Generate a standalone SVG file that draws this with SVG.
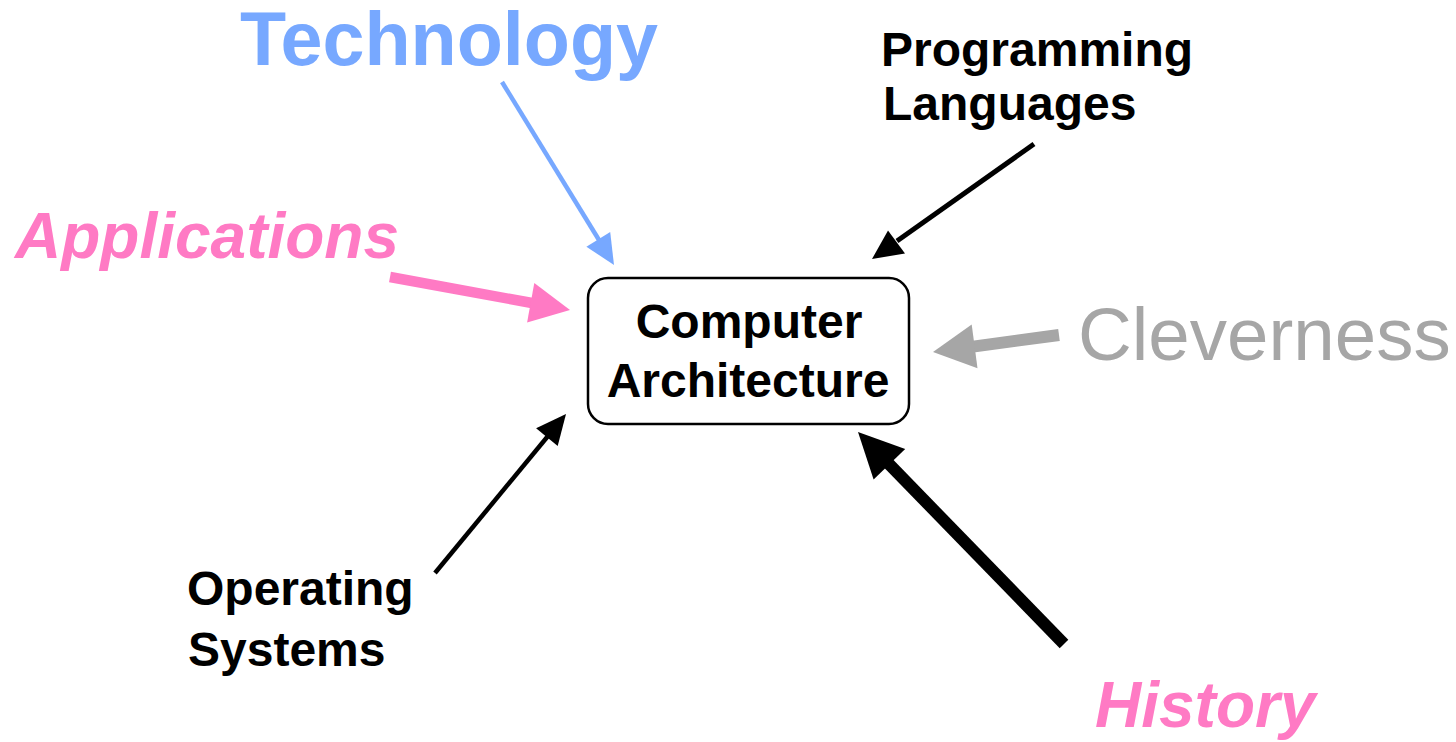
<svg xmlns="http://www.w3.org/2000/svg" width="1456" height="742" viewBox="0 0 1456 742">
  <style>
    text { font-family: "Liberation Sans", Arial, sans-serif; }
    .label { font-size: 48px; font-weight: bold; fill: #000; }
    .tech { font-size: 75.5px; font-weight: bold; fill: #77A8FF; }
    .pink { font-size: 64px; font-weight: bold; font-style: italic; fill: #FF7AC4; }
    .clever { font-size: 74.5px; fill: #A6A6A6; }
    .box { fill: #fff; stroke: #000; stroke-width: 2.5; }
  </style>

  <rect width="1456" height="742" fill="#fff"/>

  <!-- central node -->
  <g id="computer-architecture">
    <rect class="box" x="588" y="278" width="321" height="146" rx="20" ry="20"/>
    <text class="label" x="749" y="338" text-anchor="middle">Computer</text>
    <text class="label" x="748" y="397" text-anchor="middle">Architecture</text>
  </g>

  <!-- surrounding influences -->
  <g id="technology">
    <text class="tech" x="240" y="65">Technology</text>
  </g>
  <g id="programming-languages">
    <text class="label" x="881" y="66">Programming</text>
    <text class="label" x="883" y="120">Languages</text>
  </g>
  <g id="applications">
    <text class="pink" x="15" y="258">Applications</text>
  </g>
  <g id="cleverness">
    <text class="clever" x="1078" y="360">Cleverness</text>
  </g>
  <g id="operating-systems">
    <text class="label" x="187" y="605">Operating</text>
    <text class="label" x="188" y="666">Systems</text>
  </g>
  <g id="history">
    <text class="pink" x="1095" y="727">History</text>
  </g>

  <!-- arrows: shaft + head -->
  <g id="connectors">
    <line x1="502" y1="82" x2="599" y2="240" stroke="#77A8FF" stroke-width="4.5"/>
    <polygon points="614,265 586.4,246.7 610.2,232.1" fill="#77A8FF"/>

    <line x1="390" y1="277" x2="532" y2="303" stroke="#FF7AC4" stroke-width="10.5"/>
    <polygon points="570,310 527.1,322.5 534.3,283.1" fill="#FF7AC4"/>

    <line x1="1034" y1="144" x2="897" y2="241" stroke="#000" stroke-width="5"/>
    <polygon points="872,259 888,230.5 905,253.5" fill="#000"/>

    <line x1="435" y1="573" x2="548" y2="436" stroke="#000" stroke-width="4.5"/>
    <polygon points="566,414 557.7,446.1 536.1,428.3" fill="#000"/>

    <line x1="1064" y1="644" x2="888" y2="463" stroke="#000" stroke-width="12"/>
    <polygon points="858,432 905.2,449 873.6,479.6" fill="#000"/>

    <line x1="1059" y1="335" x2="973" y2="346.6" stroke="#A6A6A6" stroke-width="12"/>
    <polygon points="933,352 971.7,324.6 977.5,368.2" fill="#A6A6A6"/>
  </g>
</svg>
